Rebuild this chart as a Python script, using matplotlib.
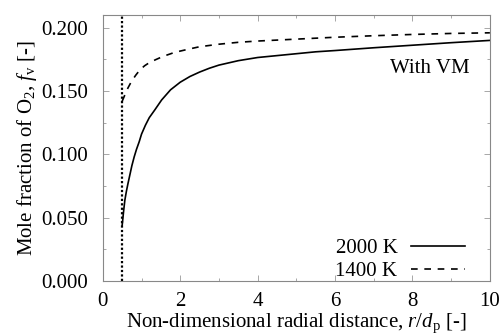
import numpy as np
import matplotlib
matplotlib.use("Agg")
import matplotlib.pyplot as plt
from matplotlib.ticker import MultipleLocator, FormatStrFormatter

plt.rcParams['font.family'] = 'Liberation Serif'
plt.rcParams['mathtext.fontset'] = 'custom'
plt.rcParams['mathtext.rm'] = 'Liberation Serif'
plt.rcParams['mathtext.it'] = 'Liberation Serif:italic'

# 2000 K (solid)
r_2000 = [0.5, 0.54, 0.57, 0.61, 0.65, 0.7, 0.75, 0.81, 0.87, 0.94, 1.0, 1.1, 1.2, 1.34, 1.52, 1.75, 2.0,
          2.25, 2.5, 2.75, 3.0, 3.5, 4.0, 4.5, 5.0, 5.5, 6.0, 7.0, 8.0, 9.0, 10.0]
f_2000 = [0.044, 0.056, 0.064, 0.071, 0.077, 0.084, 0.091, 0.098, 0.104, 0.110, 0.116, 0.123, 0.129,
          0.135, 0.143, 0.151, 0.157, 0.1615, 0.165, 0.168, 0.1705, 0.174, 0.1765, 0.178, 0.1795,
          0.181, 0.182, 0.1842, 0.1862, 0.1882, 0.190]

# 1400 K (dashed)
r_1400 = [0.5, 0.57, 0.65, 0.74, 0.85, 0.96, 1.08, 1.21, 1.38, 1.55, 1.85, 2.2, 2.5, 3.0, 3.5, 4.0,
          5.0, 6.0, 7.0, 8.0, 9.0, 10.0]
f_1400 = [0.142, 0.147, 0.1525, 0.1576, 0.1625, 0.1668, 0.170, 0.1726, 0.175, 0.1773, 0.1805, 0.183,
          0.185, 0.187, 0.1885, 0.1895, 0.191, 0.1925, 0.1937, 0.1947, 0.1955, 0.196]

r_surface = 0.5

fig = plt.figure(figsize=(5.04, 3.35), dpi=100)
ax = fig.add_axes([0.204, 0.161, 0.768, 0.794])

ax.plot(r_2000, f_2000, color='black', lw=1.2, ls='-', label='2000 K')
ax.plot(r_1400, f_1400, color='black', lw=1.2, ls=(0, (4, 4)), label='1400 K')
ax.axvline(r_surface, color='black', lw=1.6, ls=(0, (1, 1)))

ax.set_xlim(0, 10)
ax.set_ylim(0, 0.21)
ax.xaxis.set_major_locator(MultipleLocator(2))
ax.xaxis.set_minor_locator(MultipleLocator(1))
ax.yaxis.set_major_locator(MultipleLocator(0.05))
ax.yaxis.set_minor_locator(MultipleLocator(0.025))
ax.yaxis.set_major_formatter(FormatStrFormatter('%.3f'))
ax.tick_params(which='both', direction='in', top=True, right=True, color='#999999', labelsize=15)
ax.tick_params(which='major', length=4, width=0.6)
ax.tick_params(axis='y', which='major', pad=10.5)
ax.tick_params(axis='x', which='major', pad=8)
ax.tick_params(which='minor', length=2.5, width=0.6)
for s in ax.spines.values():
    s.set_color('#888888')
    s.set_linewidth(0.8)

ax.set_xlabel(r'Non-dimensional radial distance, $r/d_\mathrm{p}$ [-]', fontsize=15, labelpad=0.5)
ax.set_ylabel(r'Mole fraction of O$_2$, $f_\mathrm{v}$ [-]', fontsize=15, labelpad=2)

ax.text(9.48, 0.168, 'With VM', ha='right', va='center', fontsize=15)

ax.legend(loc='lower right', bbox_to_anchor=(0.935, 0.0), frameon=False, markerfirst=False,
          fontsize=15, handlelength=2.6, borderaxespad=0, borderpad=0, labelspacing=0.15,
          handletextpad=0.63)

fig.savefig('out.png', dpi=100)
